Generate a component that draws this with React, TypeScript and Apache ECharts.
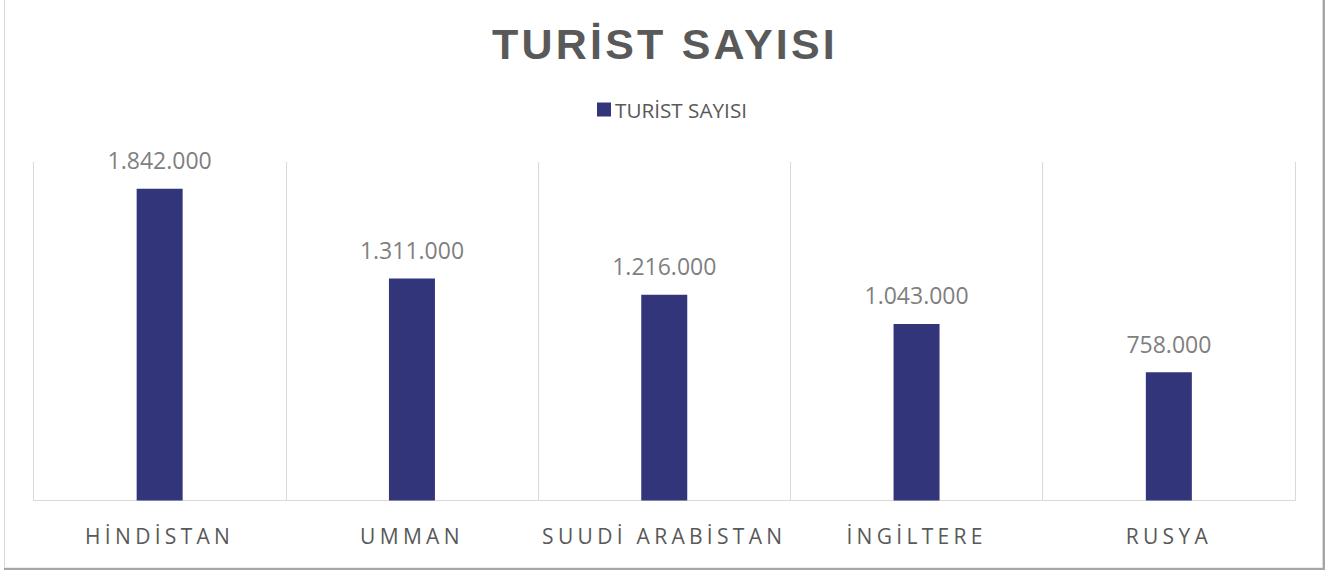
import React, { useEffect, useRef } from "react";
import * as echarts from "echarts";

const categories = ["HİNDİSTAN", "UMMAN", "SUUDİ ARABİSTAN", "İNGİLTERE", "RUSYA"];
const touristCounts = [1842000, 1311000, 1216000, 1043000, 758000];
const seriesName = "TURİST SAYISI";
const chartTitle = "TURİST SAYISI";
const valueMax = 2000000;

function formatDots(v: number): string {
  return String(Math.round(v)).replace(/\B(?=(\d{3})+(?!\d))/g, ".");
}

export default function App() {
  const ref = useRef<HTMLDivElement>(null);
  useEffect(() => {
    if (!ref.current) return;
    const chart = echarts.init(ref.current, undefined, { renderer: "svg" });
    chart.setOption({
      animation: false,
      backgroundColor: "#ffffff",
      title: {
        text: chartTitle,
        left: 660,
        textAlign: "center",
        top: 17,
        textStyle: {
          fontFamily: "'Liberation Sans', Arial, ttlspc",
          fontWeight: "bold",
          fontSize: 43,
          color: "#595959",
        },
      },
      legend: {
        data: [seriesName],
        top: 94,
        left: "center",
        icon: "rect",
        itemWidth: 14,
        itemHeight: 14,
        itemGap: 10,
        textStyle: {
          fontFamily: "'Open Sans'",
          fontSize: 20.7,
          color: "#595959",
          padding: [0, 0, 0, -1],
        },
      },
      graphic: [
        {
          type: "rect",
          shape: { x: 4.5, y: -1, width: 1318, height: 569 },
          style: { fill: "none", stroke: "#d9d9d9", lineWidth: 1 },
          silent: true,
        },
        {
          type: "line",
          shape: { x1: 1324, y1: 0, x2: 1324, y2: 570 },
          style: { stroke: "#a6a6a6", lineWidth: 2 },
          silent: true,
        },
        {
          type: "line",
          shape: { x1: 4, y1: 569, x2: 1325, y2: 569 },
          style: { stroke: "#a6a6a6", lineWidth: 2 },
          silent: true,
        },
      ],
      grid: { left: 33.5, right: 49, top: 162, bottom: 73.5 },
      xAxis: {
        type: "category",
        data: categories,
        axisTick: { show: false },
        axisLine: { show: true, lineStyle: { color: "#d9d9d9", width: 1 } },
        splitLine: { show: true, lineStyle: { color: "#d9d9d9", width: 1 } },
        axisLabel: {
          margin: 25,
          fontFamily: "'Open Sans', catspc",
          fontSize: 21,
          color: "#595959",
        },
      },
      yAxis: {
        type: "value",
        min: 0,
        max: valueMax,
        show: false,
        splitLine: { show: false },
      },
      series: [
        {
          name: seriesName,
          type: "bar",
          data: touristCounts,
          barWidth: 46,
          itemStyle: { color: "#32357a" },
          label: {
            show: true,
            position: "top",
            distance: 17,
            fontFamily: "'Open Sans'",
            fontSize: 23,
            color: "#7f7f7f",
            formatter: (p: any) => formatDots(p.value),
          },
        },
      ],
    });
    return () => chart.dispose();
  }, []);
  return (
    <>
      <style>{`text[style*="catspc"]{letter-spacing:4.3px;} text[style*="ttlspc"]{letter-spacing:3.2px;}`}</style>
      <div
        ref={ref}
        style={{ position: "fixed", left: 0, top: 0, width: 1344, height: 574 }}
      />
    </>
  );
}
